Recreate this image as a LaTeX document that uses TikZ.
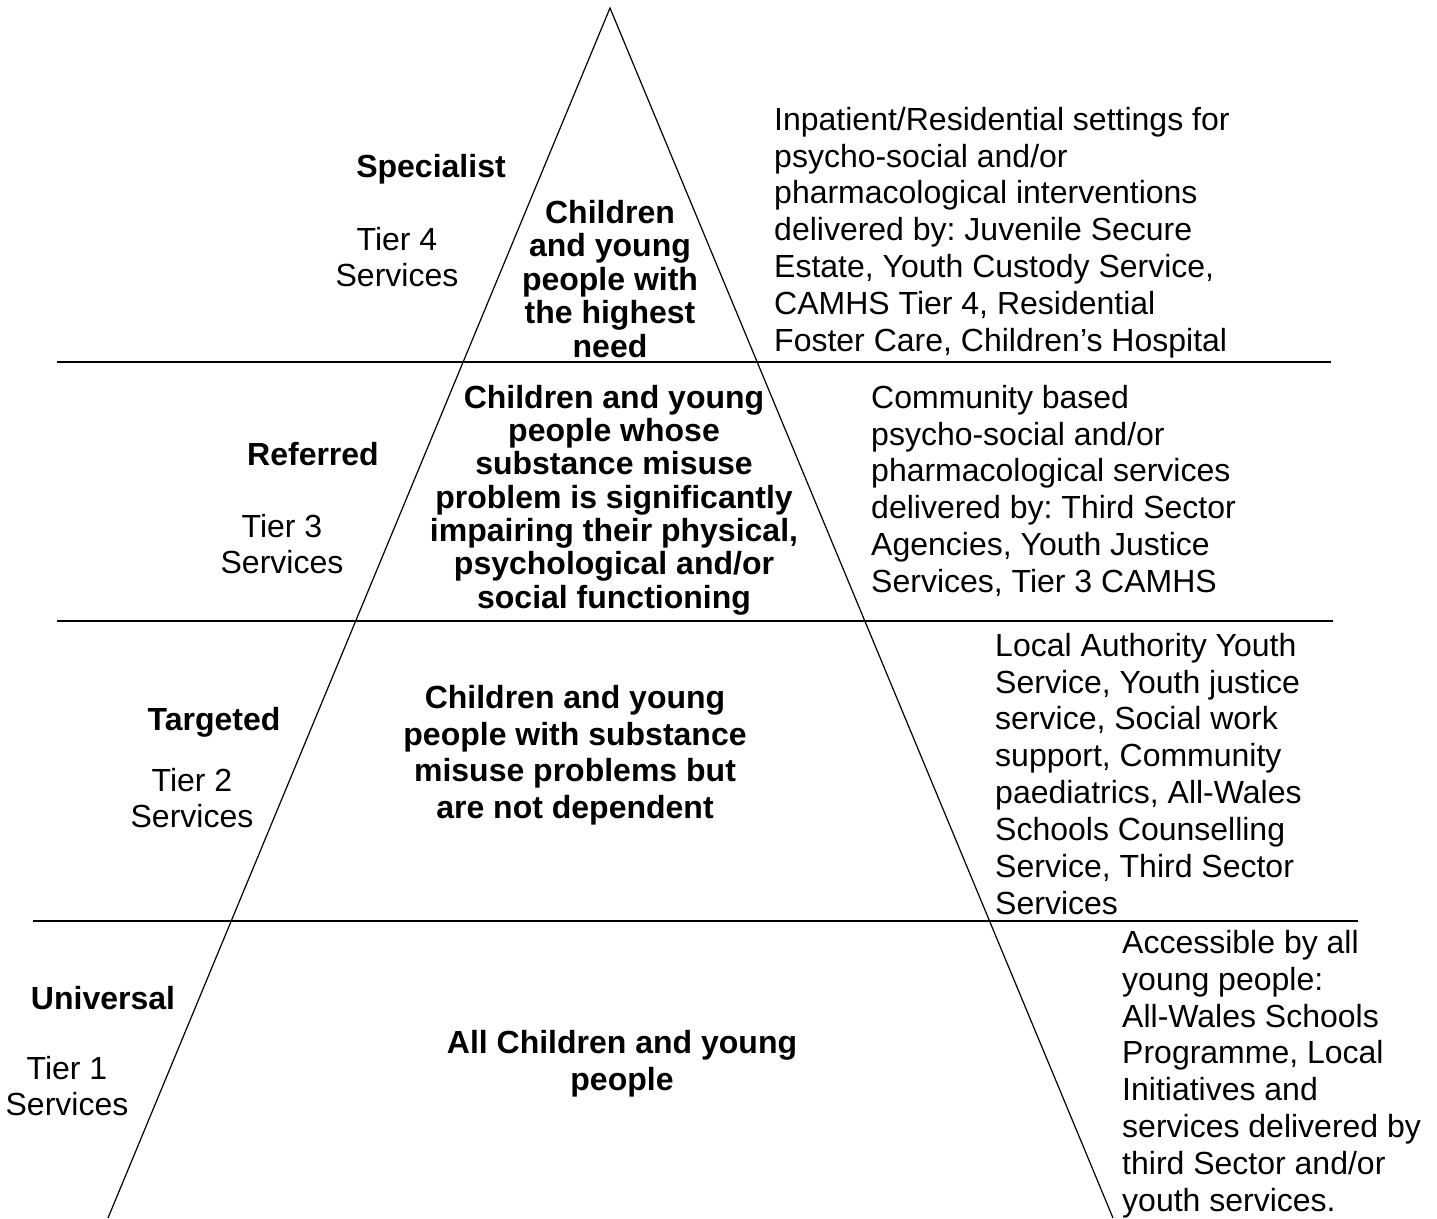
\documentclass[tikz,border=0pt]{standalone}
\usepackage{fontspec}
\setmainfont{Liberation Sans}
\usetikzlibrary{positioning}
\frenchspacing

\begin{document}
\begin{tikzpicture}[
    x=1pt, y=-1pt,
    % Pyramid side style - thin black
    side/.style={
        draw=black,
        line width=1.2pt
    },
    % Tier divider style - thicker black
    divider/.style={
        draw=black,
        line width=2pt
    },
    % Tier name style - bold, left
    tiername/.style={
        inner sep=0pt,
        anchor=base,
        font=\fontsize{32}{36.8}\selectfont\bfseries
    },
    % Tier number style - plain, left
    tiernum/.style={
        inner sep=0pt,
        anchor=north,
        align=center,
        font=\fontsize{32}{36}\selectfont
    },
    % Need text style - bold, inside pyramid
    needtxt/.style={
        inner sep=0pt,
        anchor=north,
        align=center,
        font=\fontsize{32}{36.8}\selectfont\bfseries
    },
    % Service text style - plain, right
    svctxt/.style={
        inner sep=0pt,
        anchor=north west,
        align=left,
        font=\fontsize{32}{36.8}\selectfont
    }
]
\useasboundingbox (0,0) rectangle (1437,1218);

% === Pyramid ===
\coordinate (apex) at (610,8);
\coordinate (baseL) at (108,1218);
\coordinate (baseR) at (1113,1218);
\draw[side] (baseL) -- (apex) -- (baseR);

% === Tier dividers ===
\draw[divider] (57,362) -- (1331,362);
\draw[divider] (57,621) -- (1333,621);
\draw[divider] (33,921) -- (1358,921);

% === Tier 4: Specialist ===
\node[tiername] (spec) at (431,177) {Specialist};
\node[tiernum] (tier4) at (397,227) {Tier 4\\Services};
\node[needtxt, font=\fontsize{32}{33.5}\selectfont\bfseries] (need4) at (610,200)
    {Children\\and young\\people with\\the highest\\need};
\node[svctxt] (svc4) at (774,107)
    {Inpatient/Residential settings for\\psycho-social and/or\\pharmacological interventions\\delivered by: Juvenile Secure\\Estate, Youth Custody Service,\\CAMHS Tier 4, Residential\\Foster Care, Children’s Hospital};

% === Tier 3: Referred ===
\node[tiername] (refd) at (313,465) {Referred};
\node[tiernum] (tier3) at (282,514) {Tier 3\\Services};
\node[needtxt, font=\fontsize{32}{33.3}\selectfont\bfseries] (need3) at (614,385)
    {Children and young\\people whose\\substance misuse\\problem is significantly\\impairing their physical,\\psychological and/or\\social functioning};
\node[svctxt] (svc3) at (871,385)
    {Community based\\psycho-social and/or\\pharmacological services\\delivered by: Third Sector\\Agencies, Youth Justice\\Services, Tier 3 CAMHS};

% === Tier 2: Targeted ===
\node[tiername] (targ) at (214,730) {Targeted};
\node[tiernum] (tier2) at (192,768) {Tier 2\\Services};
\node[needtxt] (need2) at (575,685)
    {Children and young\\people with substance\\misuse problems but\\are not dependent};
\node[svctxt] (svc2) at (995,633)
    {Local Authority Youth\\Service, Youth justice\\service, Social work\\support, Community\\paediatrics, All-Wales\\Schools Counselling\\Service, Third Sector\\Services};

% === Tier 1: Universal ===
\node[tiername] (univ) at (103,1009) {Universal};
\node[tiernum] (tier1) at (67,1056) {Tier 1\\Services};
\node[needtxt] (need1) at (622,1030)
    {All Children and young\\people};
\node[svctxt] (svc1) at (1122,930)
    {Accessible by all\\young people:\\All-Wales Schools\\Programme, Local\\Initiatives and\\services delivered by\\third Sector and/or\\youth services.};

\end{tikzpicture}
\end{document}
